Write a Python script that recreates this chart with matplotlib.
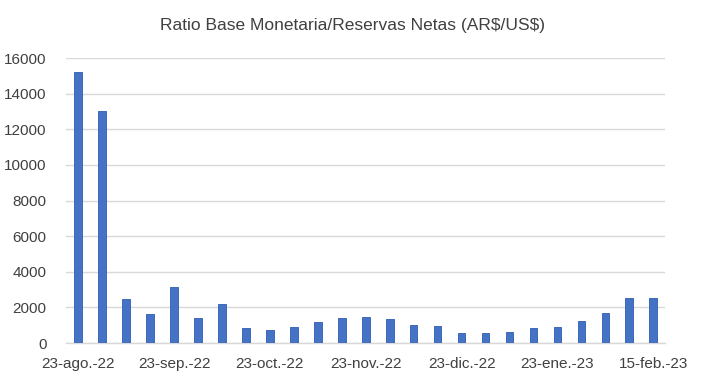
import matplotlib
matplotlib.use('Agg')
import matplotlib.pyplot as plt

# valores (25 barras)
fechas = ['23-ago.-22', '', '', '', '23-sep.-22', '', '', '', '23-oct.-22', '', '', '',
          '23-nov.-22', '', '', '', '23-dic.-22', '', '', '', '23-ene.-23', '', '', '', '15-feb.-23']
ratio = [15200, 13050, 2470, 1610, 3125, 1385, 2190, 860, 730, 917, 1200, 1420,
         1480, 1330, 1010, 970, 580, 580, 640, 860, 920, 1250, 1700, 2530, 2530]
yticks = [0, 2000, 4000, 6000, 8000, 10000, 12000, 14000, 16000]

plt.rcParams['font.family'] = ['Liberation Sans', 'DejaVu Sans']
plt.rcParams['text.parse_math'] = False

fig = plt.figure(figsize=(7.04, 3.85), dpi=100)
ax = fig.add_axes([0.094, 0.109, 0.851, 0.740])

x = list(range(len(ratio)))
ax.bar(x, ratio, width=0.32, color='#4472C4', edgecolor='#2F5BB7', linewidth=0.6, zorder=3)

ax.set_xlim(-0.5, len(ratio) - 0.5)
ax.set_ylim(0, 16000)
ax.set_yticks(yticks)
ax.set_yticklabels([str(v) for v in yticks])
tick_pos = [i for i, f in enumerate(fechas) if f]
ax.set_xticks(tick_pos)
ax.set_xticklabels([fechas[i] for i in tick_pos])

ax.grid(axis='y', color='#D9D9D9', linewidth=1, zorder=0)
for s in ['top', 'right', 'left']:
    ax.spines[s].set_visible(False)
ax.spines['bottom'].set_color('#D9D9D9')
ax.spines['bottom'].set_linewidth(1)
ax.tick_params(axis='both', length=0, labelsize=11, colors='#404040')
ax.tick_params(axis='x', pad=10)
ax.tick_params(axis='y', pad=14)

fig.text(0.5, 0.933, 'Ratio Base Monetaria/Reservas Netas (AR$/US$)', ha='center', va='center',
         fontsize=12.5, color='#404040')

fig.savefig('out.png', dpi=100)
